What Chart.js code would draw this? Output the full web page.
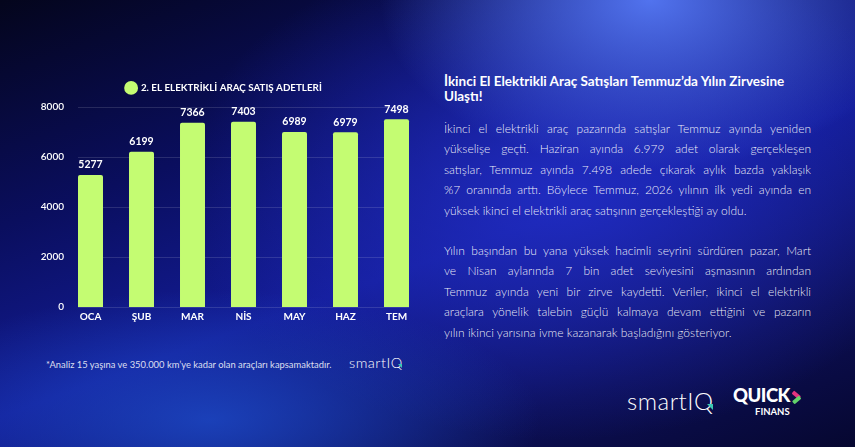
<!DOCTYPE html>
<html lang="tr">
<head>
<meta charset="utf-8">
<script src="https://cdn.jsdelivr.net/npm/chart.js@4.4.1/dist/chart.umd.min.js"></script>
<style>
html, body { margin: 0; width: 855px; height: 447px; overflow: hidden; }
body {
    position: relative;
    font-family: Lato, "Noto Sans", sans-serif;
    color: #fff;
    background:
        radial-gradient(ellipse 270px 170px at 650px 0px, rgba(85,120,245,0.95), rgba(85,120,245,0) 100%),
        radial-gradient(ellipse 330px 130px at 210px 420px, rgba(30,78,205,0.75), rgba(30,78,205,0) 100%),
        radial-gradient(ellipse 380px 250px at 560px 190px, rgba(34,46,200,0.85), rgba(34,46,200,0) 100%),
        linear-gradient(160deg, #04051c 0%, #0a0e5e 30%, #131c96 55%, #0c0f55 80%, #060730 100%);
}
#chartBox { position: absolute; left: 20px; top: 73px; width: 404px; height: 254px; }
.title { position: absolute; left: 444px; top: 74px; font-size: 13.5px; font-weight: 700; line-height: 15px; white-space: nowrap; }
.para { position: absolute; left: 444px; width: 367px; font-size: 12px; font-weight: 300; line-height: 20.4px; color: rgba(255,255,255,0.93); }
.para span { display: block; white-space: nowrap; }
.para span.j { white-space: normal; text-align: justify; text-align-last: justify; }
.note { position: absolute; left: 46px; top: 359px; font-size: 9.4px; font-weight: 400; color: rgba(255,255,255,0.85); white-space: nowrap; }
.smart { position: absolute; font-weight: 300; letter-spacing: 0.5px; white-space: nowrap; }
.smart .q { position: relative; }
.smart .q::after { content: ''; position: absolute; right: 0.02em; bottom: 0.2em; border-left: 0.28em solid transparent; border-top: 0.28em solid #3cc9b2; }
.quick { position: absolute; left: 733px; top: 385px; font-size: 18.5px; font-weight: 900; letter-spacing: -0.5px; line-height: 20px; }
.finans { position: absolute; left: 755px; top: 406px; font-size: 9.5px; font-weight: 700; line-height: 11px; }
.chev { position: absolute; left: 792px; top: 390px; width: 9px; height: 13px; }
.chev i { position: absolute; left: 0; width: 9px; height: 3.5px; border-radius: 1px; }
</style>
</head>
<body>
<div id="chartBox"><canvas id="salesChart"></canvas></div>

<div class="title">İkinci El Elektrikli Araç Satışları Temmuz’da Yılın Zirvesine<br>Ulaştı!</div>
<div class="para" style="top:119px">
    <span class="j">İkinci el elektrikli araç pazarında satışlar Temmuz ayında yeniden</span>
    <span class="j">yükselişe geçti. Haziran ayında 6.979 adet olarak gerçekleşen</span>
    <span class="j">satışlar, Temmuz ayında 7.498 adede çıkarak aylık bazda yaklaşık</span>
    <span class="j">%7 oranında arttı. Böylece Temmuz, 2026 yılının ilk yedi ayında en</span>
    <span>yüksek ikinci el elektrikli araç satışının gerçekleştiği ay oldu.</span>
</div>
<div class="para" style="top:241px">
    <span class="j">Yılın başından bu yana yüksek hacimli seyrini sürdüren pazar, Mart</span>
    <span class="j">ve Nisan aylarında 7 bin adet seviyesini aşmasının ardından</span>
    <span class="j">Temmuz ayında yeni bir zirve kaydetti. Veriler, ikinci el elektrikli</span>
    <span class="j">araçlara yönelik talebin güçlü kalmaya devam ettiğini ve pazarın</span>
    <span>yılın ikinci yarısına ivme kazanarak başladığını gösteriyor.</span>
</div>

<div class="note">*Analiz 15 yaşına ve 350.000 km’ye kadar olan araçları kapsamaktadır.</div>
<div class="smart" style="left:349px; top:354px; font-size:14.5px;">smartI<span class="q">Q</span></div>
<div class="smart" style="left:627px; top:386px; font-size:24px;">smartI<span class="q">Q</span></div>
<div class="quick">QUICK</div>
<div class="chev">
    <i style="top:2.5px; background:#e2337f; transform:rotate(40deg);"></i>
    <i style="top:7.5px; background:#62d36a; transform:rotate(-40deg);"></i>
</div>
<div class="finans">FINANS</div>

<script>
const months = ['OCA', 'ŞUB', 'MAR', 'NİS', 'MAY', 'HAZ', 'TEM'];
const sales = [5277, 6199, 7366, 7403, 6989, 6979, 7498];
const yTicks = [0, 2000, 4000, 6000, 8000];
const seriesLabel = '2. EL ELEKTRİKLİ ARAÇ SATIŞ ADETLERİ';

const barColor = '#c4fc72';

// horizontal guide lines only across the bars, like the original
const guideLines = {
    id: 'guideLines',
    beforeDatasetsDraw(chart) {
        const bars = chart.getDatasetMeta(0).data;
        if (!bars.length) return;
        const first = bars[0], last = bars[bars.length - 1];
        const left = first.x - first.width / 2;
        const right = last.x + last.width / 2;
        const ctx = chart.ctx;
        ctx.save();
        ctx.strokeStyle = 'rgba(255,255,255,0.13)';
        ctx.lineWidth = 1;
        yTicks.forEach(v => {
            const y = Math.round(chart.scales.y.getPixelForValue(v)) + 0.5;
            ctx.beginPath();
            ctx.moveTo(left, y);
            ctx.lineTo(right, y);
            ctx.stroke();
        });
        ctx.restore();
    }
};

// numbers above each bar
const valueLabels = {
    id: 'valueLabels',
    afterDatasetsDraw(chart) {
        const ctx = chart.ctx;
        ctx.save();
        ctx.fillStyle = '#fff';
        ctx.font = '700 10.5px Lato';
        ctx.textAlign = 'center';
        ctx.textBaseline = 'middle';
        chart.getDatasetMeta(0).data.forEach((bar, i) => {
            ctx.fillText(String(sales[i]), bar.x, bar.y - 10);
        });
        ctx.restore();
    }
};

// a little more room under the legend
const legendGap = {
    id: 'legendGap',
    beforeInit(chart) {
        const fit = chart.legend.fit;
        chart.legend.fit = function () {
            fit.call(this);
            this.height += 4;
        };
    }
};

const ctx = document.getElementById('salesChart').getContext('2d');
const salesChart = new Chart(ctx, {
    type: 'bar',
    data: {
        labels: months,
        datasets: [{
            label: seriesLabel,
            data: sales,
            backgroundColor: barColor,
            borderWidth: 0,
            borderRadius: 2,
            categoryPercentage: 1,
            barPercentage: 0.49
        }]
    },
    options: {
        responsive: true,
        maintainAspectRatio: false,
        animation: false,
        layout: { padding: { top: 0, bottom: 0, left: 6, right: 2 } },
        plugins: {
            legend: {
                labels: {
                    color: '#fff',
                    usePointStyle: true,
                    pointStyle: 'circle',
                    boxHeight: 10,
                    padding: 10,
                    font: { family: 'Lato', size: 9.8, weight: '700' }
                }
            },
            tooltip: { enabled: false }
        },
        scales: {
            x: {
                grid: { display: false, drawTicks: false },
                border: { display: false },
                ticks: { color: '#fff', padding: 4, font: { family: 'Lato', size: 10, weight: '700' } }
            },
            y: {
                min: 0,
                max: 8000,
                grid: { display: false, drawTicks: false },
                border: { display: false },
                afterFit(axis) { axis.width = 39; },
                ticks: {
                    stepSize: 2000,
                    color: '#fff',
                    padding: 1,
                    callback: v => String(v),
                    font: { family: 'Lato', size: 10, weight: '600' }
                }
            }
        }
    },
    plugins: [guideLines, valueLabels, legendGap]
});
</script>
</body>
</html>
